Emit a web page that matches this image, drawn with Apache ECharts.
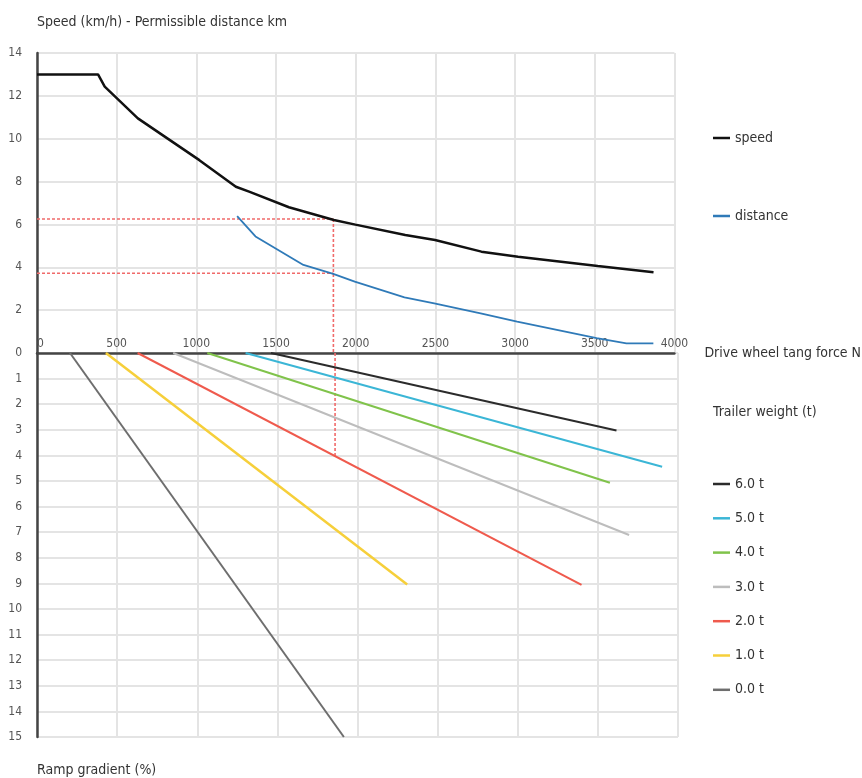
<!DOCTYPE html>
<html>
<head>
<meta charset="utf-8">
<script src="https://cdn.jsdelivr.net/npm/echarts@6/dist/echarts.min.js"></script>
<style>html,body{margin:0;padding:0;background:#fff}#c{width:862px;height:778px}</style>
</head>
<body>
<div id="c"></div>
<script>
// ---- data ----
const speedData = [[0,13],[383,13],[425,12.43],[633,10.95],[1019,9.0],[1248,7.76],[1331,7.53],[1581,6.8],[1863,6.21],[1998,5.99],[2311,5.51],[2498,5.27],[2789,4.73],[3019,4.49],[3519,4.06],[3869,3.77]];
const distanceData = [[1256,6.39],[1371,5.44],[1672,4.11],[1859,3.69],[1994,3.33],[2306,2.60],[2493,2.32],[2784,1.85],[3013,1.46],[3512,0.69],[3699,0.45],[3868,0.45]];
const ramp6 = [[1460,0],[3616,3.03]];
const ramp5 = [[1302,0],[3901,4.44]];
const ramp4 = [[1063,0],[3575,5.07]];
const ramp3 = [[850,0],[3695,7.11]];
const ramp2 = [[628,0],[3398,9.06]];
const ramp1 = [[430,0],[2310,9.04]];
const ramp0 = [[206,0],[1915,15]];
const exampleForce = 1860;
const exampleSpeed = 6.25;
const exampleDistance = 3.72;
const exampleGradient = 4.07;
const rampNames = ['6.0 t','5.0 t','4.0 t','3.0 t','2.0 t','1.0 t','0.0 t'];
const rampColors = ['#2b2b2b','#3bb6d6','#80c34b','#bdbdbd','#ef5a4d','#f6cf3a','#6e6e6e'];
const rampData = [ramp6, ramp5, ramp4, ramp3, ramp2, ramp1, ramp0];

const FONT = "'Liberation Sans Narrow','DejaVu Sans Condensed',sans-serif";
const chart = echarts.init(document.getElementById('c'));
const gridLine = {show:true, lineStyle:{color:'#e4e4e4', width:2}};
const axisLineStyle = {show:true, lineStyle:{color:'#444', width:2.5}};
const labelStyle = {color:'#555', fontSize:12, fontFamily:FONT};
const dashStyle = {color:'#f06a6a', width:1.6, type:[3,2]};

const series = [
  {name:'speed', type:'line', xAxisIndex:0, yAxisIndex:0, data:speedData, showSymbol:false, symbol:'none', lineStyle:{color:'#111', width:2.5}, itemStyle:{color:'#111'}, z:5},
  {name:'distance', type:'line', xAxisIndex:0, yAxisIndex:0, data:distanceData, showSymbol:false, symbol:'none', lineStyle:{color:'#2f7ab8', width:1.8}, itemStyle:{color:'#2f7ab8'}, z:5},
  {name:'ex1', type:'line', xAxisIndex:0, yAxisIndex:0, data:[[0,exampleSpeed],[exampleForce,exampleSpeed]], symbol:'none', lineStyle:dashStyle, silent:true, z:4},
  {name:'ex2', type:'line', xAxisIndex:0, yAxisIndex:0, data:[[0,exampleDistance],[exampleForce,exampleDistance]], symbol:'none', lineStyle:dashStyle, silent:true, z:4},
  {name:'ex3', type:'line', xAxisIndex:0, yAxisIndex:0, data:[[exampleForce,exampleSpeed],[exampleForce,0]], symbol:'none', lineStyle:dashStyle, silent:true, z:4},
  {name:'ex4', type:'line', xAxisIndex:1, yAxisIndex:1, data:[[exampleForce,0],[exampleForce,exampleGradient]], symbol:'none', lineStyle:dashStyle, silent:true, z:4}
];
rampData.forEach((d,i)=>{
  series.push({name:rampNames[i], type:'line', xAxisIndex:1, yAxisIndex:1, data:d, symbol:'none', showSymbol:false,
    lineStyle:{color:rampColors[i], width:(i===5?2.5:2)}, itemStyle:{color:rampColors[i]}, z:5});
});

chart.setOption({
  animation:false,
  backgroundColor:'#fff',
  textStyle:{fontFamily:FONT},
  title:{text:'Trailer weight (t)', left:708, top:400, textStyle:{fontSize:14, fontWeight:'normal', color:'#333', fontFamily:FONT}},
  grid:[
    {left:37, top:53, width:641, height:300},
    {left:37, top:353, width:641, height:384}
  ],
  xAxis:[
    {type:'value', gridIndex:0, min:0, max:4000, interval:500, position:'bottom',
     axisLine:axisLineStyle, axisTick:{show:false}, splitLine:gridLine,
     axisLabel:Object.assign({inside:true, margin:3, alignMinLabel:'left', formatter:(v)=>String(v)}, labelStyle),
     name:'Drive wheel tang force N', nameLocation:'end', nameGap:30,
     nameTextStyle:{color:'#333', fontSize:14, fontFamily:FONT, align:'left', verticalAlign:'middle'}},
    {type:'value', gridIndex:1, min:0, max:4000, interval:500, position:'top',
     axisLine:{show:false}, axisTick:{show:false}, axisLabel:{show:false}, splitLine:gridLine}
  ],
  yAxis:[
    {type:'value', gridIndex:0, min:0, max:14, interval:2,
     axisLine:axisLineStyle, axisTick:{show:false}, splitLine:gridLine,
     axisLabel:Object.assign({margin:15}, labelStyle),
     name:'Speed (km/h) - Permissible distance km', nameLocation:'end', nameGap:31,
     nameTextStyle:{color:'#333', fontSize:14, fontFamily:FONT, align:'left', verticalAlign:'middle'}},
    {type:'value', gridIndex:1, min:0, max:15, interval:1, inverse:true,
     axisLine:axisLineStyle, axisTick:{show:false}, splitLine:gridLine,
     axisLabel:Object.assign({margin:15, showMinLabel:false}, labelStyle),
     name:'Ramp gradient (%)', nameLocation:'end', nameGap:33,
     nameTextStyle:{color:'#333', fontSize:14, fontFamily:FONT, align:'left', verticalAlign:'middle'}}
  ],
  legend:[
    {data:['speed','distance'], orient:'vertical', left:708, top:125, itemGap:62,
     icon:'rect', itemWidth:17, itemHeight:2.5,
     textStyle:{color:'#333', fontSize:14, fontFamily:FONT, lineHeight:16}},
    {data:rampNames, orient:'vertical', left:708, top:471, itemGap:18.3,
     icon:'rect', itemWidth:17, itemHeight:2.5,
     textStyle:{color:'#333', fontSize:14, fontFamily:FONT, lineHeight:16}}
  ],
  series:series
});
</script>
</body>
</html>
